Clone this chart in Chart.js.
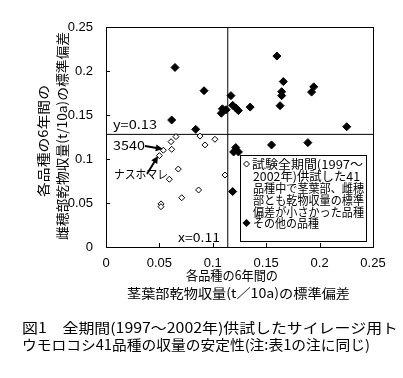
<!DOCTYPE html>
<html>
<head>
<meta charset="utf-8">
<script src="https://cdn.jsdelivr.net/npm/chart.js@4/dist/chart.umd.min.js"></script>
<style>
  body { margin: 0; background: #fff; }
  #wrap { width: 403px; height: 378px; }
</style>
</head>
<body>
<div id="wrap"><canvas id="c" width="403" height="378"></canvas></div>
<script>
// varieties with small SD for both stover and ear (open diamonds)
const smallX = [0.0609, 0.0655, 0.088, 0.102, 0.0927, 0.0615, 0.0537, 0.050, 0.0677, 0.0593, 0.1114, 0.0867, 0.0709, 0.0515, 0.0515];
const smallY = [0.1197, 0.1254, 0.126, 0.1224, 0.116, 0.111, 0.110, 0.1038, 0.0886, 0.077, 0.0818, 0.0648, 0.056, 0.049, 0.0458];
// other varieties (filled diamonds)
const otherX = [0.0646, 0.0918, 0.160, 0.166, 0.1645, 0.1645, 0.1945, 0.1925, 0.117, 0.109, 0.1125, 0.108, 0.1186, 0.1215, 0.1239, 0.135, 0.163, 0.0615, 0.084, 0.2254, 0.155, 0.189, 0.1215, 0.1195, 0.124, 0.1186];
const otherY = [0.204, 0.1776, 0.217, 0.188, 0.1765, 0.172, 0.182, 0.176, 0.172, 0.157, 0.156, 0.152, 0.161, 0.158, 0.155, 0.159, 0.1606, 0.1443, 0.1337, 0.1367, 0.116, 0.1186, 0.113, 0.108, 0.108, 0.063];
// reference lines
const xLine = 0.114;
const yLine = 0.128;
const axisMin = 0;
const axisMax = 0.25;
const tickStep = 0.05;

const xTitle = ['各品種の6年間の', '茎葉部乾物収量(t／10a)の標準偏差'];
const yTitle = ['各品種の6年間の', '雌穂部乾物収量(t/10a)の標準偏差'];
const legendLines = ['試験全期間(1997～', '2002年)供試した41', '品種中で茎葉部、雌穂', '部とも乾物収量の標準', '偏差が小さかった品種', 'その他の品種'];
const caption = ['図1　全期間(1997～2002年)供試したサイレージ用ト', 'ウモロコシ41品種の収量の安定性(注:表1の注に同じ)'];

const JP = '"Noto Sans CJK JP", sans-serif';
const NUM = '"Liberation Sans Narrow", "Liberation Sans", sans-serif';

function pts(xs, ys) {
    return xs.map((x, i) => ({ x: x, y: ys[i] }));
}

// draw text squeezed/stretched to a given width
function fitText(ctx, str, x, y, w, size, fam) {
    ctx.save();
    ctx.font = size + 'px ' + fam;
    ctx.textBaseline = 'middle';
    ctx.textAlign = 'left';
    const m = ctx.measureText(str).width;
    ctx.translate(x, y);
    ctx.scale(w / m, 1);
    ctx.fillText(str, 0, 0);
    ctx.restore();
}

function diamond(ctx, x, y, r, filled) {
    ctx.beginPath();
    ctx.moveTo(x, y - r);
    ctx.lineTo(x + r, y);
    ctx.lineTo(x, y + r);
    ctx.lineTo(x - r, y);
    ctx.closePath();
    if (filled) { ctx.fill(); } else { ctx.fillStyle = '#fff'; ctx.fill(); ctx.stroke(); ctx.fillStyle = '#000'; }
}

function arrow(ctx, x1, y1, x2, y2) {
    const a = Math.atan2(y2 - y1, x2 - x1);
    ctx.beginPath();
    ctx.moveTo(x1, y1);
    ctx.lineTo(x2 - 5 * Math.cos(a), y2 - 5 * Math.sin(a));
    ctx.lineWidth = 2;
    ctx.stroke();
    ctx.beginPath();
    ctx.moveTo(x2, y2);
    ctx.lineTo(x2 - 8 * Math.cos(a - 0.45), y2 - 8 * Math.sin(a - 0.45));
    ctx.lineTo(x2 - 8 * Math.cos(a + 0.45), y2 - 8 * Math.sin(a + 0.45));
    ctx.closePath();
    ctx.fill();
}

const decor = {
    id: 'decor',
    afterDraw(chart) {
        const ctx = chart.ctx;
        const a = chart.chartArea;
        const xs = chart.scales.x, ys = chart.scales.y;
        ctx.save();
        ctx.strokeStyle = '#000';
        ctx.fillStyle = '#000';
        ctx.lineWidth = 1;
        // frame
        ctx.strokeRect(Math.round(a.left) + 0.5, Math.round(a.top) + 0.5, Math.round(a.right - a.left), Math.round(a.bottom - a.top));
        // inward ticks
        ctx.beginPath();
        xs.ticks.forEach(t => {
            const p = Math.round(xs.getPixelForValue(t.value)) + 0.5;
            ctx.moveTo(p, a.bottom); ctx.lineTo(p, a.bottom - 4);
        });
        ys.ticks.forEach(t => {
            const p = Math.round(ys.getPixelForValue(t.value)) + 0.5;
            ctx.moveTo(a.left, p); ctx.lineTo(a.left + 4, p);
        });
        ctx.stroke();

        // line labels
        fitText(ctx, 'y=0.13', 113, 124, 44, 12, JP);
        fitText(ctx, 'x=0.11', 178, 237, 42, 12, JP);

        // named varieties
        fitText(ctx, '3540', 113, 145, 32, 12, JP);
        arrow(ctx, 145, 146, 163, 149);
        fitText(ctx, 'ナスホマレ', 114, 174, 54, 12, JP);
        arrow(ctx, 147, 174, 158, 156);

        // legend box
        ctx.lineWidth = 1;
        ctx.strokeRect(240.5, 155.5, 126, 86);
        diamond(ctx, 246.5, 164, 3, false);
        fitText(ctx, legendLines[0], 252, 164, 111, 12, JP);
        fitText(ctx, legendLines[1], 253, 176, 107, 12, JP);
        fitText(ctx, legendLines[2], 253, 188.5, 111, 12, JP);
        fitText(ctx, legendLines[3], 253, 200.5, 111, 12, JP);
        fitText(ctx, legendLines[4], 253, 212, 111, 12, JP);
        diamond(ctx, 246.5, 223, 4, true);
        fitText(ctx, legendLines[5], 253, 223, 66, 12, JP);

        // axis titles
        fitText(ctx, xTitle[0], 186, 275, 92, 13, JP);
        fitText(ctx, xTitle[1], 127, 293, 223, 13, JP);
        ctx.save();
        ctx.rotate(-Math.PI / 2);
        fitText(ctx, yTitle[0], -197, 43, 112, 13, JP);
        fitText(ctx, yTitle[1], -240, 62, 208, 13, JP);
        ctx.restore();

        // caption
        fitText(ctx, caption[0], 22, 328, 376, 14, JP);
        fitText(ctx, caption[1], 22, 345, 348, 14, JP);
        ctx.restore();
    }
};

const ctx = document.getElementById('c').getContext('2d');
const chart = new Chart(ctx, {
    type: 'scatter',
    data: {
        datasets: [
            {
                label: 'small',
                data: pts(smallX, smallY),
                pointStyle: 'rectRot',
                pointRadius: 3,
                backgroundColor: '#fff',
                borderColor: '#000',
                borderWidth: 1
            },
            {
                label: 'other',
                data: pts(otherX, otherY),
                pointStyle: 'rectRot',
                pointRadius: 4,
                backgroundColor: '#000',
                borderColor: '#000',
                borderWidth: 1
            },
            {
                label: 'y line',
                data: [{ x: axisMin, y: yLine }, { x: axisMax, y: yLine }],
                showLine: true,
                pointRadius: 0,
                borderColor: '#000',
                borderWidth: 1
            },
            {
                label: 'x line',
                data: [{ x: xLine, y: axisMin }, { x: xLine, y: axisMax }],
                showLine: true,
                pointRadius: 0,
                borderColor: '#000',
                borderWidth: 1
            }
        ]
    },
    options: {
        responsive: false,
        animation: false,
        devicePixelRatio: 1,
        layout: { padding: { top: 27, right: 30, left: 0, bottom: 0 } },
        plugins: {
            legend: { display: false },
            tooltip: { enabled: false }
        },
        scales: {
            x: {
                type: 'linear',
                min: axisMin,
                max: axisMax,
                grid: { display: false },
                border: { display: false },
                ticks: {
                    stepSize: tickStep,
                    color: '#000',
                    padding: 1,
                    font: { family: NUM, size: 13 },
                    callback: v => String(+v.toFixed(2))
                },
                afterFit: s => { s.height = 131; }
            },
            y: {
                type: 'linear',
                min: axisMin,
                max: axisMax,
                grid: { display: false },
                border: { display: false },
                ticks: {
                    stepSize: tickStep,
                    color: '#000',
                    padding: 5,
                    font: { family: NUM, size: 13 },
                    callback: v => String(+v.toFixed(2))
                },
                afterFit: s => { s.width = 106; }
            }
        }
    },
    plugins: [decor]
});
</script>
</body>
</html>
